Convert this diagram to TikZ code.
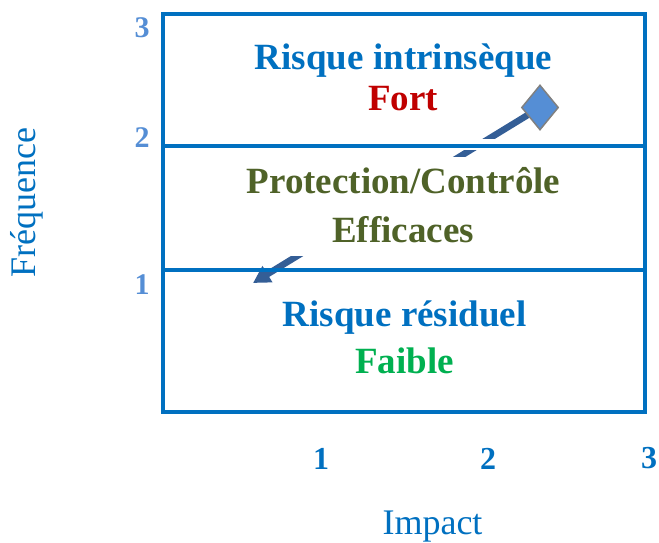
\documentclass[tikz,border=0pt]{standalone}
\usepackage{fontspec}
\setmainfont{Liberation Serif}
\usetikzlibrary{arrows.meta,shapes.geometric}
\definecolor{zoneblue}{RGB}{0,112,192}
\definecolor{ticklight}{RGB}{85,142,213}
\definecolor{arrowblue}{RGB}{52,94,150}
\definecolor{fortred}{RGB}{192,0,0}
\definecolor{olivetext}{RGB}{79,98,40}
\definecolor{faiblegreen}{RGB}{0,176,80}
\definecolor{edgegray}{RGB}{128,128,128}

\begin{document}
\begin{tikzpicture}[x=1pt,y=-1pt,
  frame/.style={draw=zoneblue,line width=3.7pt},
  zonetext/.style={font=\fontsize{37}{40}\selectfont\bfseries,anchor=base,inner sep=0pt},
  ytick/.style={font=\fontsize{30}{32}\selectfont\bfseries,text=ticklight,inner sep=0pt},
  xtick/.style={font=\fontsize{32}{34}\selectfont\bfseries,text=zoneblue,inner sep=0pt},
  axislabel/.style={font=\fontsize{36}{40}\selectfont,text=zoneblue,anchor=base,inner sep=0pt},
  mask/.style={fill=white}]
\useasboundingbox (0,0) rectangle (659,543);

% path of the risk position, from the inherent level down to the residual one
\coordinate (posc) at (540,107.5);
\coordinate (tip) at (253,283);
\draw[arrowblue,line width=6.5pt,-{Triangle[length=17pt,width=18pt]}] (posc) -- (tip);
\node[diamond,draw=edgegray,fill=ticklight,line width=1.5pt,
      minimum width=37pt,minimum height=45pt,inner sep=0pt] (pos) at (posc) {};

% white areas behind the labels that hide parts of the path
\fill[mask] (450,139) rectangle (505,150);
\fill[mask] (240,157) rectangle (566,256);

% zones
\draw[frame] (162.7,14.3) rectangle (645.3,412);
\draw[frame] (162.7,145.7) -- (645.3,145.7);
\draw[frame] (162.7,270) -- (645.3,270);

% zone labels
\node[zonetext,text=zoneblue] (z3a) at (403.5,69.3) {Risque intrinsèque};
\node[zonetext,text=fortred] (z3b) at (403,110.7) {Fort};
\node[zonetext,text=olivetext] (z2a) at (403.5,193) {Protection/Contrôle};
\node[zonetext,text=olivetext] (z2b) at (403,242) {Efficaces};
\node[zonetext,text=zoneblue] (z1a) at (404.7,326.7) {Risque résiduel};
\node[zonetext,text=faiblegreen] (z1b) at (404.5,373.3) {Faible};

% axis ticks
\node[ytick] (y3) at (142,27.5) {3};
\node[ytick] (y2) at (142,137.5) {2};
\node[ytick] (y1) at (142,284.5) {1};
\node[xtick] (x1) at (321,458.5) {1};
\node[xtick] (x2) at (488,458.5) {2};
\node[xtick] (x3) at (649,458.5) {3};

% axis titles
\node[axislabel,rotate=90] (ylab) at (35,202.5) {Fréquence};
\node[axislabel] (xlab) at (432.5,534.5) {Impact};
\end{tikzpicture}
\end{document}
